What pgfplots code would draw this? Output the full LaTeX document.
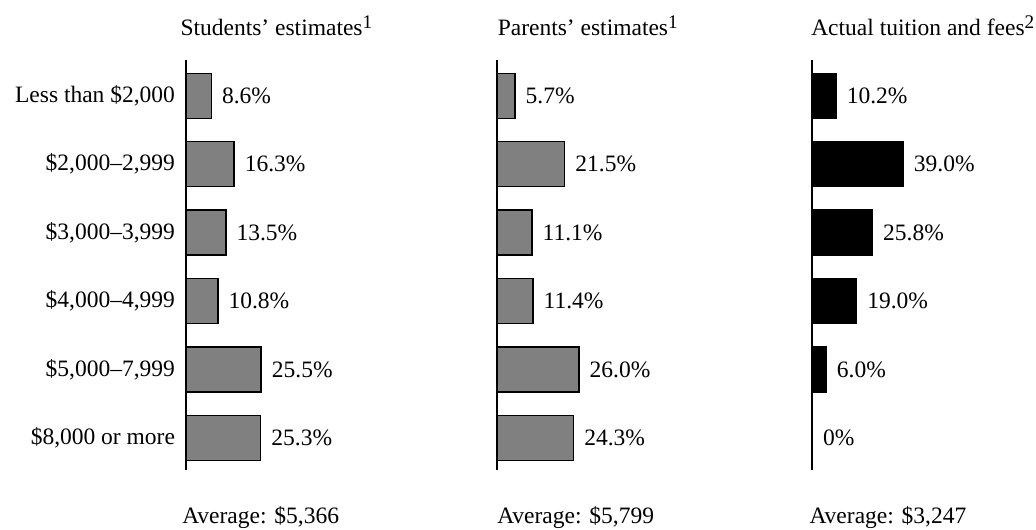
\documentclass[border=0pt]{standalone}
\usepackage{fontspec}
\setmainfont{Liberation Serif}
\usepackage{pgfplots}
\pgfplotsset{compat=1.18}
\usepackage{pgfplotstable}
\definecolor{bargray}{RGB}{128,128,128}
\newcommand{\supnum}[1]{\raisebox{2.8pt}{\fontsize{7.7}{9}\selectfont #1}}

\pgfplotstableread{
y x lab
0 8.6 8.6
1 16.3 16.3
2 13.5 13.5
3 10.8 10.8
4 25.5 25.5
5 25.3 25.3
}\students
\pgfplotstableread{
y x lab
0 5.7 5.7
1 21.5 21.5
2 11.1 11.1
3 11.4 11.4
4 26.0 26.0
5 24.3 24.3
}\parents
\pgfplotstableread{
y x lab
0 10.2 10.2
1 39.0 39.0
2 25.8 25.8
3 19.0 19.0
4 6.0 6.0
5 0 0
}\actual

\pgfplotsset{panel/.style={
  scale only axis, anchor=south west, height=164pt, xmin=0,
  ymin=-0.523, ymax=5.47, y dir=reverse,
  axis x line=none, axis y line=left,
  y axis line style={-, line width=0.8pt},
  major tick length=0pt, clip=false,
  xbar, bar width=18pt, point meta=explicit symbolic,
  nodes near coords={\pgfplotspointmeta\%},
  every node near coord/.append style={anchor=west, inner sep=0pt, xshift=4pt},
  tick label style={font=\fontsize{9.4}{11}\selectfont},
  every axis plot/.append style={line width=0.6pt},
}}

\begin{document}
\fontsize{9.4}{11}\selectfont
\begin{tikzpicture}[font=\fontsize{9.4}{11}\selectfont]
\path[use as bounding box] (0,0) rectangle (414.4pt,-211.6pt);

\begin{axis}[panel, at={(74.4pt,-188pt)}, width=47.2pt, xmax=40,
  ytick={0,...,5},
  yticklabels={{Less than \$2,000},{\$2,000--2,999},{\$3,000--3,999},{\$4,000--4,999},{\$5,000--7,999},{\$8,000 or more}},
  yticklabel style={inner sep=0pt, xshift=-4.2pt}]
\addplot[fill=bargray, draw=black] table[x=x,y=y,meta=lab]{\students};
\end{axis}

\begin{axis}[panel, at={(198.8pt,-188pt)}, width=50.4pt, xmax=40, ytick=\empty]
\addplot[fill=bargray, draw=black] table[x=x,y=y,meta=lab]{\parents};
\end{axis}

\begin{axis}[panel, at={(324.9pt,-188pt)}, width=46.6pt, xmax=50, ytick=\empty]
\addplot[fill=black, draw=black] table[x=x,y=y,meta=lab]{\actual};
\end{axis}

\node[anchor=base west, inner sep=0pt] at (72pt,-14pt) {Students’ estimates\supnum{1}};
\node[anchor=base west, inner sep=0pt] at (198.9pt,-14pt) {Parents’ estimates\supnum{1}};
\node[anchor=base west, inner sep=0pt] at (324.3pt,-14pt) {Actual tuition and fees\supnum{2}};

\node[anchor=base west, inner sep=0pt] at (72.7pt,-209.3pt) {Average: \$5,366};
\node[anchor=base west, inner sep=0pt] at (198.7pt,-209.3pt) {Average: \$5,799};
\node[anchor=base west, inner sep=0pt] at (323.6pt,-209.3pt) {Average: \$3,247};
\end{tikzpicture}
\end{document}
